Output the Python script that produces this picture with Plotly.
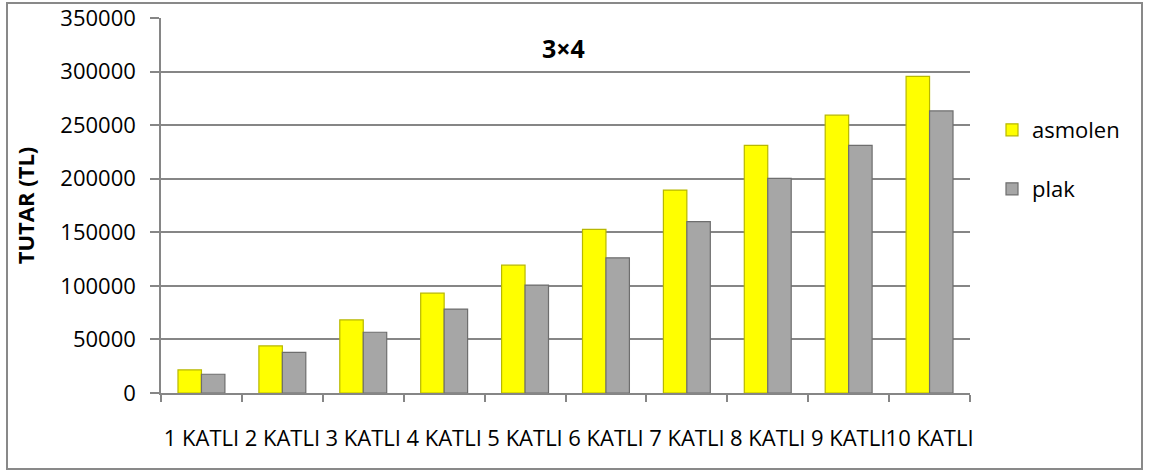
import plotly.graph_objects as go

categories = ["1 KATLI", "2 KATLI", "3 KATLI", "4 KATLI", "5 KATLI",
              "6 KATLI", "7 KATLI", "8 KATLI", "9 KATLI", "10 KATLI"]
asmolen = [21500, 43900, 68200, 93200, 119300, 152700, 189400, 231200, 259300, 295500]
plak = [17500, 38000, 56700, 78300, 100600, 126200, 159900, 200400, 231200, 263300]
y_ticks = [0, 50000, 100000, 150000, 200000, 250000, 300000, 350000]

FONT = "Open Sans"
GRID = "#868686"
FS = 22

fig = go.Figure()
fig.add_trace(go.Bar(
    name="asmolen", x=categories, y=asmolen, legend="legend",
    marker=dict(color="#FFFF00", line=dict(color="#B8B800", width=1.2)),
))
fig.add_trace(go.Bar(
    name="plak", x=categories, y=plak, legend="legend2",
    marker=dict(color="#A6A6A6", line=dict(color="#6E6E6E", width=1.2)),
))

legend_style = dict(
    xanchor="left", yanchor="middle",
    font=dict(family=FONT, size=FS, color="black"),
    bgcolor="rgba(0,0,0,0)", itemwidth=30,
)

fig.update_layout(
    width=1149, height=472,
    margin=dict(l=161, r=179, t=18, b=79, autoexpand=False),
    paper_bgcolor="white", plot_bgcolor="white",
    barmode="group", bargap=0.42, bargroupgap=0.0,
    font=dict(family=FONT, size=FS, color="black"),
    showlegend=True,
    legend=dict(x=(992 - 161) / 809, y=(393 - 130) / 375, **legend_style),
    legend2=dict(x=(992 - 161) / 809, y=(393 - 189) / 375, **legend_style),
    shapes=[dict(
        type="rect", xref="paper", yref="paper",
        x0=-154 / 809, x1=981 / 809, y0=-76 / 375, y1=390 / 375,
        line=dict(color="#898989", width=2), fillcolor="rgba(0,0,0,0)",
        layer="below",
    )],
    annotations=[
        dict(text="<b>3×4</b>", xref="paper", yref="paper",
             x=(563 - 161) / 809, y=(393 - 48) / 375,
             xanchor="center", yanchor="middle", showarrow=False,
             font=dict(family=FONT, size=25, color="black")),
    ],
)

fig.update_yaxes(
    range=[0, 350000], tickvals=y_ticks, ticktext=[str(v) for v in y_ticks],
    showgrid=True, gridcolor=GRID, gridwidth=1.5,
    showline=True, linecolor=GRID, linewidth=1.5,
    ticks="outside", ticklen=9, tickcolor=GRID, tickwidth=1.5,
    ticklabelstandoff=10, zeroline=False, automargin=False,
    tickfont=dict(family=FONT, size=FS, color="black"),
    title=dict(text="<b>TUTAR (TL)</b>", standoff=20,
               font=dict(family=FONT, size=FS, color="black")),
)
fig.update_xaxes(
    showline=True, linecolor=GRID, linewidth=1.5,
    ticks="outside", ticklen=7, tickcolor=GRID, tickwidth=1.5,
    tickson="boundaries", ticklabelstandoff=25, tickangle=0, automargin=False,
    tickfont=dict(family=FONT, size=FS, color="black"),
)

fig.write_html("out.html")
